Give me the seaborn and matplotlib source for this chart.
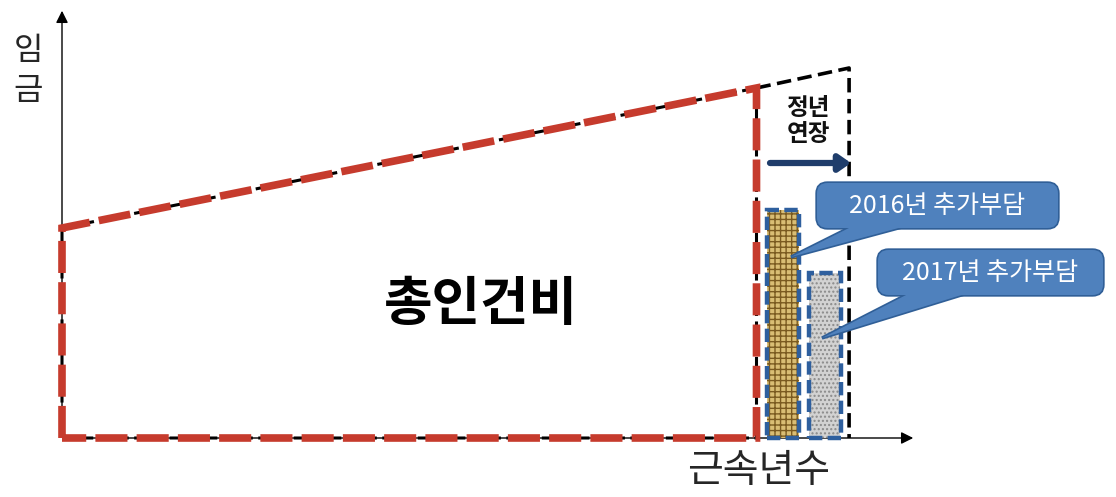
import numpy as np
import pandas as pd
import matplotlib
matplotlib.use("Agg")
import matplotlib.pyplot as plt
from matplotlib.patches import FancyBboxPatch, Polygon
import seaborn as sns

# ---------------- data ----------------
career_x = [0, 0, 30, 30, 0]          # years of service (old retirement at 30)
career_wage = [0, 21.0, 35.0, 0, 0]   # wage profile (polygon)
ext_x = [30, 34, 34]                  # extension to new retirement age
ext_wage = [35.0, 37.0, 0]
bar_years = [31.15, 32.95]
bar_heights = [22.8, 16.5]
bar_labels = ["2016년 추가부담", "2017년 추가부담"]
total_label = "총인건비"
ext_label = "정년\n연장"
xlabel = "근속년수"
ylabel = "임\n금"

# ---------------- style ----------------
sns.set_theme(style="white")
plt.rcParams["font.family"] = ["Noto Sans CJK KR", "DejaVu Sans"]

W, H = 1116, 497
fig = plt.figure(figsize=(W / 100, H / 100), dpi=100)
ax = fig.add_axes([0, 0, 1, 1])
PXX, PXY = 23.15, 10.0   # pixels per unit
OX, OY = 62, 438          # origin pixel
ax.set_xlim(-OX / PXX, (W - OX) / PXX)
ax.set_ylim((OY - H) / PXY, OY / PXY)
ax.axis("off")


def P(px, py):
    """layout helper: pixel -> data"""
    return ((px - OX) / PXX, (OY - py) / PXY)


# axes arrows
ax.annotate("", xy=P(62, 8), xytext=P(62, 438),
            arrowprops=dict(arrowstyle="-|>", color="black", lw=1.0, mutation_scale=18), zorder=1)
ax.annotate("", xy=P(916, 438), xytext=P(62, 438),
            arrowprops=dict(arrowstyle="-|>", color="black", lw=1.0, mutation_scale=18), zorder=1)

# bars (textured fill + blue dashed border)
colors_fill = ["#d9bd74", "#d2d2d2"]
hatch_cols = ["#7a5a20", "#8a8a8a"]
hatches = ["+++", "...."]
for xv, hv, fc, hc, hh in zip(bar_years, bar_heights, colors_fill, hatch_cols, hatches):
    ax.bar(xv, hv, width=1.35, color=fc, edgecolor=hc, hatch=hh, linewidth=0, zorder=2)
    ax.bar(xv, hv, width=1.4, fill=False, edgecolor="#2e5f9e", linewidth=3.2,
           linestyle=(0, (3, 1.2)), zorder=3)

# black dashed extension & underlay
df_ext = pd.DataFrame({"x": ext_x, "w": ext_wage})
sns.lineplot(data=df_ext, x="x", y="w", sort=False, estimator=None, ax=ax,
             color="black", lw=2.6, linestyle=(0, (4, 1.8)), zorder=4)
df_car = pd.DataFrame({"x": career_x, "w": career_wage})
sns.lineplot(data=df_car, x="x", y="w", sort=False, estimator=None, ax=ax,
             color="black", lw=2.2, linestyle=(0, (4, 1.8)), zorder=4)
sns.lineplot(data=df_car, x="x", y="w", sort=False, estimator=None, ax=ax,
             color="#c63b2d", lw=5.5, linestyle=(0, (4.2, 1.2)), zorder=5,
             solid_joinstyle="miter", dash_joinstyle="miter")

# extension arrow and label
ax.annotate("", xy=P(851, 163), xytext=P(770, 163),
            arrowprops=dict(arrowstyle="-|>,head_length=0.5,head_width=0.35", color="#1f3d6b",
                            lw=4.5, mutation_scale=14, shrinkA=0, shrinkB=0), zorder=6)
ax.text(*P(808, 121), ext_label, ha="center", va="center", fontsize=17,
        fontweight="bold", linespacing=1.1, color="#111111", zorder=6)

# central label
ax.text(*P(481, 305), total_label, ha="center", va="center", fontsize=38,
        fontweight="bold", color="black", zorder=6)

# axis labels
ax.text(*P(28, 71), ylabel, ha="center", va="center", fontsize=23, linespacing=1.3)
ax.text(*P(759, 471), xlabel, ha="center", va="center", fontsize=28)

# callouts
boxes = [((817, 183, 1058, 228), [(853, 226), (906, 226), (791, 257)]),
         ((878, 250, 1103, 295), [(910, 293), (968, 293), (822, 338)])]
fc, ec = "#4f81bd", "#305f97"
for (x0, y0, x1, y1), tri, lab in zip([b[0] for b in boxes], [b[1] for b in boxes], bar_labels):
    (dx0, dy1), (dx1, dy0) = P(x0, y0), P(x1, y1)
    for fill_only, z in [(False, 7), (True, 8)]:
        box = FancyBboxPatch((dx0, dy0), dx1 - dx0, dy1 - dy0,
                             boxstyle="round,pad=0,rounding_size=0.45",
                             mutation_aspect=PXX / PXY,
                             fc=fc, ec="none" if fill_only else ec, lw=2.4, zorder=z)
        ax.add_patch(box)
        poly = Polygon([P(*t) for t in tri], closed=True, fc=fc,
                       ec="none" if fill_only else ec, lw=2.4, zorder=z)
        ax.add_patch(poly)
    ax.text(*P((x0 + x1) / 2, (y0 + y1) / 2 + 1), lab, ha="center", va="center",
            fontsize=18, color="white", zorder=9)

fig.savefig("out.png", dpi=100)
